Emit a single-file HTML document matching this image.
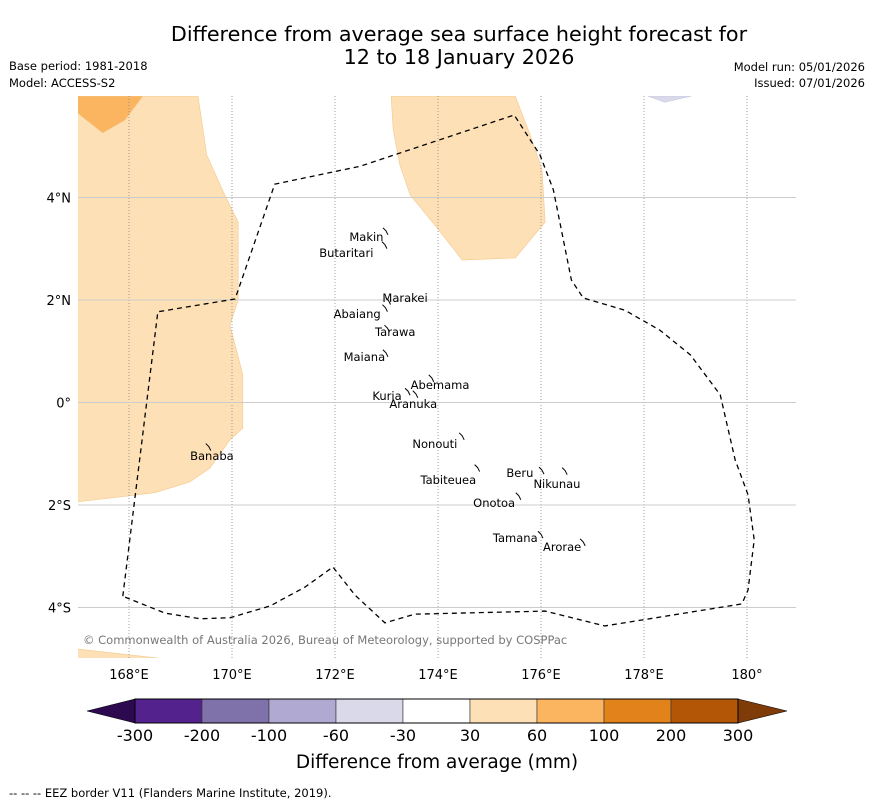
<!DOCTYPE html>
<html><head><meta charset="utf-8"><style>
body{margin:0;background:#fff;width:873px;height:804px;overflow:hidden;font-family:"Liberation Sans","DejaVu Sans",sans-serif}
svg text{font-family:"DejaVu Sans","Liberation Sans",sans-serif}
</style></head><body>
<svg id="chart" width="873" height="804" viewBox="0 0 873 804" xmlns="http://www.w3.org/2000/svg">
<text x="459" y="41" font-size="20.7" text-anchor="middle">Difference from average sea surface height forecast for</text>
<text x="459" y="64" font-size="20.7" text-anchor="middle">12 to 18 January 2026</text>
<text x="9" y="70" font-size="11.5">Base period: 1981-2018</text>
<text x="9" y="87" font-size="11.5">Model: ACCESS-S2</text>
<text x="865" y="71" font-size="11.5" text-anchor="end">Model run: 05/01/2026</text>
<text x="865" y="87" font-size="11.5" text-anchor="end">Issued: 07/01/2026</text>
<g id="map"></g>
<text x="83" y="644" font-size="11.5" fill="#777">© Commonwealth of Australia 2026, Bureau of Meteorology, supported by COSPPac</text>
<g id="cbar"></g>
<text x="437" y="768" font-size="18.5" text-anchor="middle">Difference from average (mm)</text>
<text x="9" y="797" font-size="11.5">--  --  -- EEZ border V11 (Flanders Marine Institute, 2019).</text>
</svg>
<script>
const lonTicks=[168,170,172,174,176,178,180];
const lonLabels=["168°E","170°E","172°E","174°E","176°E","178°E","180°"];
const latTicks=[4,2,0,-2,-4];
const latLabels=["4°N","2°N","0°","2°S","4°S"];
const cbarLevels=["-300","-200","-100","-60","-30","30","60","100","200","300"];
const cbarColors=["#54228c","#7f71aa","#b0a9d2","#d9d9ea","#ffffff","#fde0b6","#fbb561","#e1821a","#b35707"];
const cbarExtColors=["#2d0a4f","#7f3b08"];
const eez=[[167.88,-3.78],[168.56,1.77],[170.06,2.02],[170.83,4.26],[172.49,4.61],[175.48,5.61],[175.98,4.83],[176.24,4.15],[176.59,2.39],[176.82,2.04],[177.63,1.80],[178.31,1.41],[178.90,0.93],[179.48,0.15],[179.77,-1.12],[180.02,-1.80],[180.14,-2.68],[180.02,-3.66],[179.90,-3.93],[177.24,-4.36],[176.08,-4.07],[173.55,-4.13],[172.97,-4.30],[172.39,-3.76],[171.96,-3.21],[171.42,-3.60],[170.74,-3.97],[169.96,-4.20],[169.38,-4.22],[168.70,-4.11],[167.88,-3.78]];
const fieldAreas=[
 {name:"anomaly-30-60-west",c:"#fde0b6",pts:[[167,5.98],[169.34,5.98],[169.51,4.83],[169.86,4.05],[170.12,3.52],[170.12,2.0],[169.96,1.51],[170.21,0.54],[170.21,-0.50],[169.96,-0.73],[169.57,-1.28],[169.18,-1.55],[168.50,-1.76],[167,-1.94]]},
 {name:"anomaly-60-100-northwest",c:"#fbb561",pts:[[167,5.98],[168.27,5.98],[167.92,5.51],[167.49,5.26],[167.30,5.41],[167,5.65]]},
 {name:"anomaly-30-60-southwest",c:"#fde0b6",pts:[[167,-4.81],[168.6,-4.99],[167,-4.99]]},
 {name:"anomaly-30-60-north",c:"#fde0b6",pts:[[173.09,5.98],[175.5,5.98],[175.79,5.22],[176.02,4.54],[176.08,3.52],[175.5,2.82],[174.47,2.78],[173.94,3.46],[173.46,4.05],[173.26,4.63],[173.13,5.32]]},
 {name:"anomaly-neg30-neg60-northeast",c:"#d9d9ea",pts:[[178.07,5.98],[178.92,5.98],[178.4,5.86]]}
];
const islandNames=["Makin","Butaritari","Marakei","Abaiang","Tarawa","Maiana","Abemama","Kuria","Aranuka","Nonouti","Banaba","Beru","Nikunau","Tabiteuea","Onotoa","Tamana","Arorae"];
const islandLon=[172.61,172.22,173.36,172.43,173.17,172.57,174.04,173.01,173.52,173.94,169.61,175.59,176.31,174.20,175.09,175.50,176.41];
const islandLat=[3.23,2.92,2.04,1.73,1.38,0.89,0.34,0.13,-0.03,-0.81,-1.04,-1.38,-1.59,-1.51,-1.96,-2.64,-2.82];
const atollLon=[172.97,172.95,173.02,172.96,173.0,172.97,173.86,173.4,173.55,174.45,169.53,176.0,176.45,174.75,175.55,175.98,176.8];
const atollLat=[3.35,3.08,1.99,1.85,1.45,0.97,0.48,0.22,0.17,-0.65,-0.86,-1.32,-1.33,-1.27,-1.82,-2.57,-2.72];

const NS="http://www.w3.org/2000/svg";
const X0=77.5,Y0=402.5,PX=51.5,PY=51.25;
const L=78,R=796,T=96,B=658;
function xs(lon){return X0+(lon-167)*PX;}
function ys(lat){return Y0-lat*PY;}
function mk(tag,attrs,parent){const e=document.createElementNS(NS,tag);for(const k in attrs)e.setAttribute(k,attrs[k]);parent.appendChild(e);return e;}
const map=document.getElementById('map');
const defs=mk('defs',{},map);
const cp=mk('clipPath',{id:'mc'},defs);mk('rect',{x:L,y:T,width:R-L,height:B-T},cp);
const g=mk('g',{'clip-path':'url(#mc)'},map);


fieldAreas.forEach(a=>{
 const p=mk('polygon',{points:a.pts.map(q=>xs(q[0])+','+ys(q[1])).join(' '),fill:a.c,stroke:a.c==="#d9d9ea"?"#c8c9e0":"#f5c98a","stroke-width":0.6},g);
 
 
});
lonTicks.forEach((lon,i)=>{
 const l=mk('line',{x1:xs(lon),x2:xs(lon),y1:T,y2:B,stroke:'#888','stroke-width':0.8,'stroke-dasharray':'1,2'},g);
 
 
 const t=mk('text',{x:xs(lon),y:679,'font-size':13,'text-anchor':'middle'},map);
 t.textContent=lonLabels[i];
 
 
});
latTicks.forEach((lat,i)=>{
 const l=mk('line',{x1:L,x2:R,y1:ys(lat),y2:ys(lat),stroke:'#ccc','stroke-width':1},g);
 
 
 const t=mk('text',{x:71,y:ys(lat)+5,'font-size':13,'text-anchor':'end'},map);
 t.textContent=latLabels[i];
 
 
});
const ez=mk('polyline',{points:eez.map(q=>xs(q[0])+','+ys(q[1])).join(' '),fill:'none',stroke:'#000','stroke-width':1.3,'stroke-dasharray':'5,4'},g);


atollLon.forEach((lon,i)=>{
 const x=xs(lon),y=ys(atollLat[i]);
 const p=mk('path',{d:`M${x-2},${y-3} L${x+1},${y} L${x+3},${y+4}`,fill:'none',stroke:'#000','stroke-width':1},g);
 
 
});
islandNames.forEach((n,i)=>{
 const t=mk('text',{x:xs(islandLon[i]),y:ys(islandLat[i])+4,'font-size':11.5,'text-anchor':'middle'},g);
 t.textContent=n;
 
 
});
const cb=document.getElementById('cbar');
const CX0=135,CW=67,CY=699,CH=24;
const n=cbarColors.length;
const lt=mk('polygon',{points:`${CX0},${CY} ${87},${CY+CH/2} ${CX0},${CY+CH}`,fill:cbarExtColors[0],stroke:'#000','stroke-width':0.6},cb);


const rx=CX0+n*CW;
const rt=mk('polygon',{points:`${rx},${CY} ${rx+49},${CY+CH/2} ${rx},${CY+CH}`,fill:cbarExtColors[1],stroke:'#000','stroke-width':0.6},cb);


cbarColors.forEach((c,i)=>{
 const r=mk('rect',{x:CX0+i*CW,y:CY,width:CW,height:CH,fill:c,stroke:'#333','stroke-width':0.6},cb);
 
 
});
mk('rect',{x:CX0,y:CY,width:n*CW,height:CH,fill:'none',stroke:'#000','stroke-width':1},cb);
cbarLevels.forEach((v,i)=>{
 const t=mk('text',{x:CX0+i*CW,y:741,'font-size':16,'text-anchor':'middle'},cb);
 t.textContent=v;
 
 
});
</script>
</body></html>
